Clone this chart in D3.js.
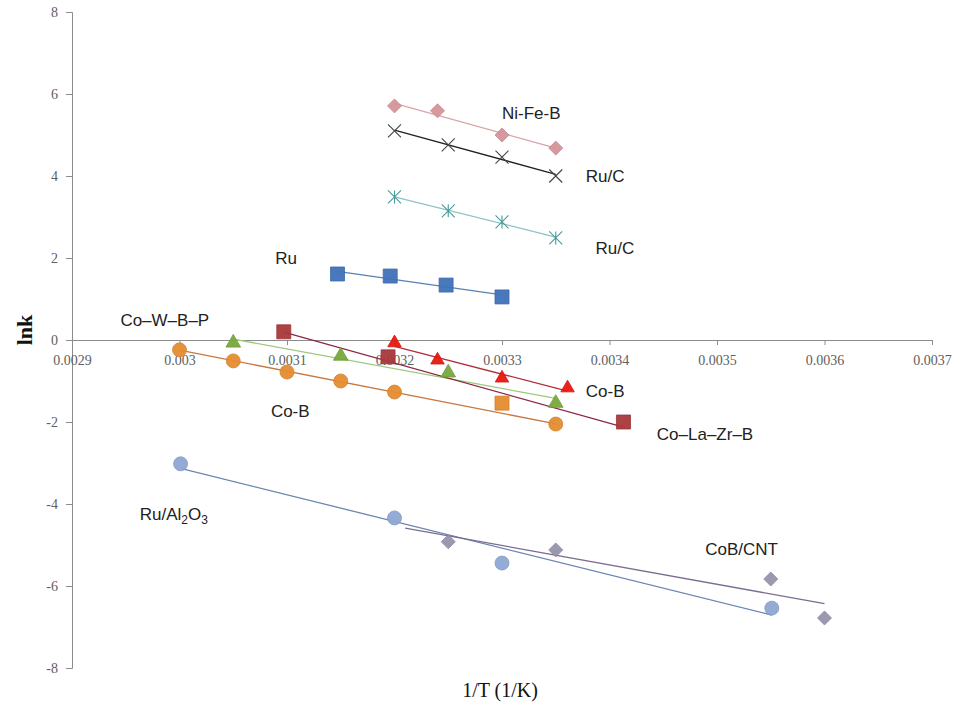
<!DOCTYPE html>
<html><head><meta charset="utf-8">
<script src="https://cdn.jsdelivr.net/npm/d3@7"></script>
<style>
body{margin:0;background:#fff;}
svg{display:block;}
</style></head>
<body>
<svg id="chart" width="967" height="707"></svg>
<script>
// ---- data ----
const xTicks = [0.0029,0.003,0.0031,0.0032,0.0033,0.0034,0.0035,0.0036,0.0037];
const xTickLabels = ["0.0029","0.003","0.0031","0.0032","0.0033","0.0034","0.0035","0.0036","0.0037"];
const yTicks = [-8,-6,-4,-2,0,2,4,6,8];

const xNiFeB = [0.0032,0.00324,0.0033,0.00335];
const yNiFeB = [5.71,5.59,5.0,4.68];

const xRuC1 = [0.0032,0.00325,0.0033,0.00335];
const yRuC1 = [5.10,4.76,4.46,4.0];

const xRuC2 = [0.0032,0.00325,0.0033,0.00335];
const yRuC2 = [3.49,3.15,2.88,2.49];

const xRu = [0.003147,0.003196,0.003248,0.0033];
const yRu = [1.61,1.56,1.34,1.05];

const xCoWBP = [0.00305,0.00315,0.00325,0.00335];
const yCoWBP = [-0.07,-0.39,-0.80,-1.54];

const xCoB1 = [0.0032,0.00324,0.0033,0.003361];
const yCoB1 = [-0.07,-0.49,-0.93,-1.17];

const xCoB2 = [0.0030,0.00305,0.0031,0.00315,0.0032,0.00335];
const yCoB2 = [-0.24,-0.51,-0.78,-1.0,-1.27,-2.05];

const xCoLaZrB = [0.003097,0.003194,0.0033,0.003413];
const yCoLaZrB = [0.2,-0.41,-1.54,-2.0];

const xRuAl2O3 = [0.003001,0.0032,0.0033,0.003551];
const yRuAl2O3 = [-3.02,-4.34,-5.44,-6.54];

const xCoBCNT = [0.00325,0.00335,0.00355,0.0036];
const yCoBCNT = [-4.92,-5.12,-5.83,-6.78];

// ---- styles / series config ----
const series = [
  {x:xNiFeB, y:yNiFeB, shape:"diamond", fill:"#d4939b", stroke:"#d4939b", line:"#d9a3a8", size:14},
  {x:xRuC1, y:yRuC1, shape:"x", fill:"none", stroke:"#444", line:"#222", size:13},
  {x:xRuC2, y:yRuC2, shape:"star", fill:"none", stroke:"#4a9a9a", line:"#8cc4c4", size:13},
  {x:xRu, y:yRu, shape:"square", fill:"#3f72b8", stroke:"#2f5f9f", line:"#5a80b4", size:14},
  {x:xCoWBP, y:yCoWBP, shape:"triangle", fill:"#78a83c", stroke:"#78a83c", line:"#9cc97c", size:13},
  {x:xCoB1, y:yCoB1, shape:"triangle", fill:"#e8170f", stroke:"#e8170f", line:"#b0303a", size:12},
  {x:xCoB2, y:yCoB2, shape:"circle", fill:"#e48c30", stroke:"#e48c30", line:"#c87840", size:14},
  {x:xCoLaZrB, y:yCoLaZrB, shape:"square", fill:"#a8383c", stroke:"#a8383c", line:"#8a2848", size:14, pointFill:{2:"#e48c30"}},
  {x:xRuAl2O3, y:yRuAl2O3, shape:"circle", fill:"#8ea6d4", stroke:"#8ea6d4", line:"#6a86b4", size:14},
  {x:xCoBCNT, y:yCoBCNT, shape:"diamond", fill:"#9792ab", stroke:"#9792ab", line:"#7a6c90", size:14, trendFrom:0.00321}
];

const labels = [
  {t:"Ni-Fe-B", x:0.00330, y:5.4},
  {t:"Ru/C", x:0.003378, y:3.85},
  {t:"Ru/C", x:0.003387, y:2.1},
  {t:"Ru", x:0.003089, y:1.85},
  {t:"Co–W–B–P", x:0.002945, y:0.35},
  {t:"Co-B", x:0.003378, y:-1.38},
  {t:"Co-B", x:0.003085, y:-1.87},
  {t:"Co–La–Zr–B", x:0.003444, y:-2.45},
  {t:"Ru/Al|2|O|3", x:0.002963, y:-4.4, sub:true},
  {t:"CoB/CNT", x:0.003489, y:-5.25}
];

// ---- chart ----
const svg = d3.select("#chart");
const x = d3.scaleLinear().domain([0.0029,0.0037]).range([72,932]);
const y = d3.scaleLinear().domain([-8,8]).range([668,12]);
const axisColor = "#8c8c8c";

// y axis
const yAxis = svg.append("g").attr("transform","translate(72,0)")
  .call(d3.axisLeft(y).tickValues(yTicks).tickSize(6).tickPadding(8).tickFormat(d=>d));
yAxis.select(".domain").attr("stroke",axisColor);
yAxis.selectAll(".tick line").attr("stroke",axisColor);
yAxis.selectAll("text").attr("font-family","'Liberation Serif','Times New Roman',serif")
  .attr("font-size",14).attr("fill","#606060");

// x axis at y=0
const xAxis = svg.append("g").attr("transform",`translate(0,${y(0)})`)
  .call(d3.axisBottom(x).tickValues(xTicks).tickSize(5).tickSizeOuter(0).tickPadding(10)
    .tickFormat((d,i)=>xTickLabels[i]));
xAxis.select(".domain").attr("stroke",axisColor);
xAxis.selectAll(".tick line").attr("stroke",axisColor);
xAxis.selectAll("text").attr("font-family","'Liberation Serif','Times New Roman',serif")
  .attr("font-size",14).attr("fill","#606060");

// axis titles
svg.append("text").attr("transform","translate(32,330) rotate(-90)")
  .attr("text-anchor","middle").attr("font-family","'Liberation Serif','Times New Roman',serif")
  .attr("font-weight","bold").attr("font-size",22).attr("fill","#111").text("lnk");
svg.append("text").attr("x",500).attr("y",697)
  .attr("text-anchor","middle").attr("font-family","'Liberation Serif','Times New Roman',serif")
  .attr("font-size",20).attr("fill","#111").text("1/T (1/K)");

// trend lines
function fit(xs,ys){
  const n=xs.length, mx=d3.mean(xs), my=d3.mean(ys);
  let sxy=0,sxx=0;
  for(let i=0;i<n;i++){sxy+=(xs[i]-mx)*(ys[i]-my);sxx+=(xs[i]-mx)**2;}
  const b=sxy/sxx; return {a:my-b*mx,b};
}
const gLines = svg.append("g");
series.forEach(s=>{
  const f = fit(s.x,s.y);
  const x0 = s.trendFrom!==undefined ? Math.min(s.trendFrom,d3.min(s.x)) : d3.min(s.x);
  const x1 = d3.max(s.x);
  gLines.append("line")
    .attr("x1",x(x0)).attr("y1",y(f.a+f.b*x0))
    .attr("x2",x(x1)).attr("y2",y(f.a+f.b*x1))
    .attr("stroke",s.line).attr("stroke-width",1.3);
});

// markers
function markerPath(shape,size){
  const h=size/2;
  if(shape==="x") return `M${-h},${-h}L${h},${h}M${-h},${h}L${h},${-h}`;
  if(shape==="star") return `M${-h},${-h}L${h},${h}M${-h},${h}L${h},${-h}M0,${-h}L0,${h}`;
  if(shape==="diamond") return `M0,${-h}L${h},0L0,${h}L${-h},0Z`;
  const area = shape==="circle" ? Math.PI*h*h : shape==="square" ? size*size : size*size*0.55;
  const t = {circle:d3.symbolCircle,square:d3.symbolSquare,triangle:d3.symbolTriangle}[shape];
  return d3.symbol().type(t).size(area)();
}
const gPts = svg.append("g");
series.forEach(s=>{
  s.x.forEach((xv,i)=>{
    const fillC = s.pointFill && s.pointFill[i] ? s.pointFill[i] : s.fill;
    const open = s.shape==="x"||s.shape==="star";
    gPts.append("path")
      .attr("transform",`translate(${x(xv)},${y(s.y[i])})`)
      .attr("d",markerPath(s.shape,s.size))
      .attr("fill",open?"none":fillC)
      .attr("fill-opacity",open?null:0.95)
      .attr("stroke",open?s.stroke:d3.color(fillC).darker(0.2))
      .attr("stroke-width",open?1.1:0.8);
  });
});

// labels
const gLab = svg.append("g").attr("font-family","'Liberation Sans',Arial,sans-serif")
  .attr("font-size",17).attr("fill","#222");
labels.forEach(l=>{
  const t = gLab.append("text").attr("x",x(l.x)).attr("y",y(l.y));
  if(l.sub){
    const parts = l.t.split("|");
    parts.forEach((p,i)=>{
      const ts = t.append("tspan").text(p);
      if(i%2===1){ ts.attr("font-size",12).attr("dy",4); }
      else if(i>0){ ts.attr("dy",-4); }
    });
  } else t.text(l.t);
});
</script>
</body></html>
